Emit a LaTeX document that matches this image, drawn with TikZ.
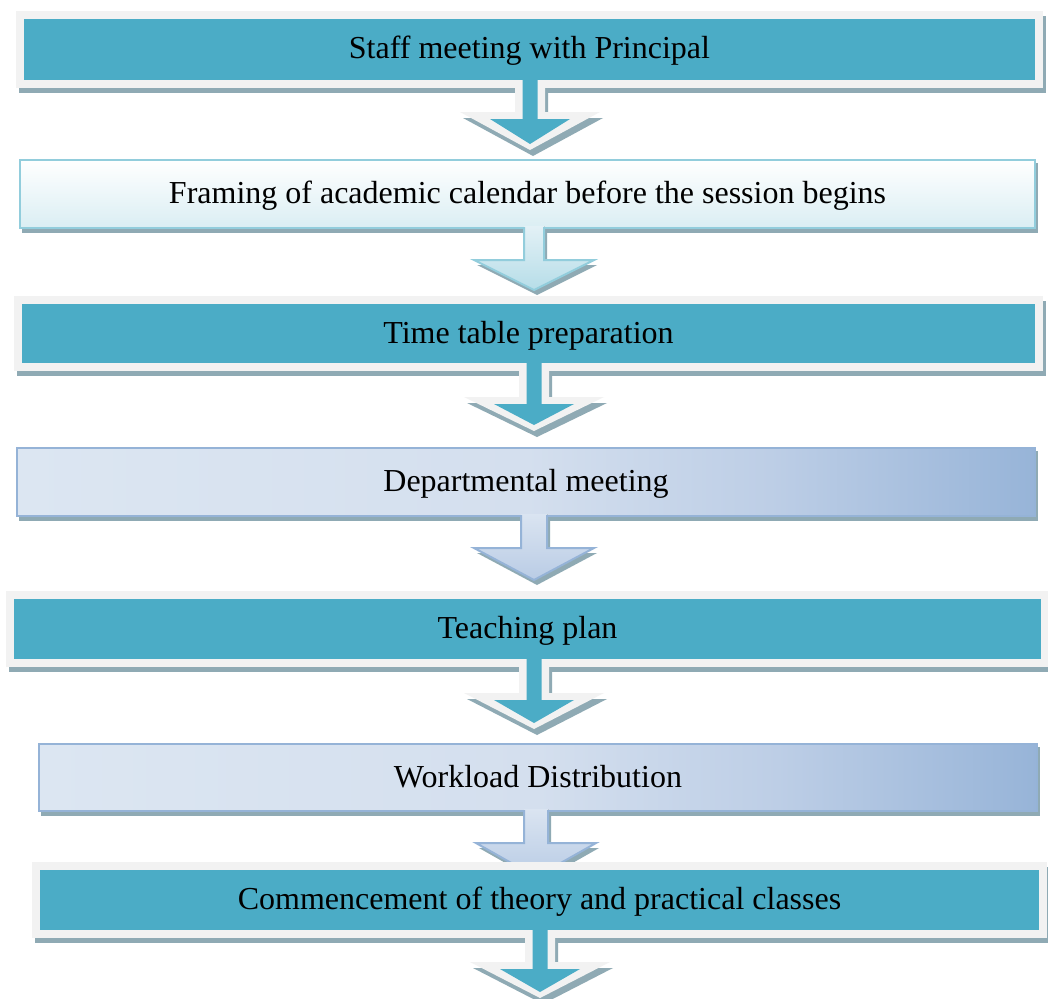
\documentclass[tikz,border=0pt]{standalone}
\usepackage{fontspec}
\setmainfont{Liberation Serif}
\usetikzlibrary{calc}
\definecolor{tealc}{HTML}{4BACC6}
\definecolor{framec}{HTML}{F2F2F2}
\definecolor{shadowc}{HTML}{8FAAB4}
\definecolor{cyanborder}{HTML}{92CDDC}
\definecolor{cyantop}{HTML}{FFFFFF}
\definecolor{cyanbot}{HTML}{DAEEF3}
\definecolor{blueborder}{HTML}{95B3D7}
\definecolor{bluelight}{HTML}{DCE6F2}
\definecolor{bluemid}{HTML}{D4DFEE}
\definecolor{bluemid2}{HTML}{BDCEE6}
\definecolor{bluedark}{HTML}{97B4D8}
\definecolor{arrcyantop}{HTML}{E3F1F6}
\definecolor{arrcyanbot}{HTML}{B6DDE8}
\definecolor{arrbluetop}{HTML}{DAE4F1}
\definecolor{arrbluebot}{HTML}{B9CCE5}

\pgfdeclarehorizontalshading{blueboxshade}{100bp}{color(0bp)=(bluelight); color(25bp)=(bluelight); color(50bp)=(bluemid); color(62bp)=(bluemid2); color(75bp)=(bluedark); color(100bp)=(bluedark)}

\tikzset{
  boxtext/.style={font=\fontsize{32}{38}\selectfont, text height=25pt, text depth=6pt, inner sep=0pt, outer sep=0pt},
  tealbox/.style={boxtext, fill=tealc, draw=none},
  cyanbox/.style={boxtext, top color=cyantop, bottom color=cyanbot, draw=cyanborder, line width=2.5pt},
  bluebox/.style={boxtext, shading=blueboxshade, draw=blueborder, line width=2.5pt},
  shadowfill/.style={fill=shadowc},
}

% teal box: name, outer x1, y1, x2, y2, text
\newcommand\tealstep[6]{%
  \fill[shadowfill] (#2+3,#3+5) rectangle (#4+3,#5+5);
  \fill[framec] (#2,#3) rectangle (#4,#5);
  \node[tealbox, minimum width={#4-#2-16}, minimum height={#5-#3-16}] (#1) at ({(#2+#4)/2},{(#3+#5)/2}) {#6};
}
% light box: style, name, x1, y1, x2, y2 (border mid line), text
\newcommand\lightstep[7]{%
  \fill[shadowfill] (#3+2,#4+3) rectangle (#5+3,#6+5);
  \node[#1, minimum width={#5-#3}, minimum height={#6-#4}] (#2) at ({(#3+#5)/2},{(#4+#6)/2}) {#7};
}
% teal block arrow: cx, ytop, yhead, ytip
\newcommand\blockarrowteal[4]{%
  \fill[shadowfill] (#1-12,#2+8) -- (#1-12,#3+6) -- (#1-67,#3+6) -- (#1+3,#4+6) -- (#1+73,#3+6) -- (#1+18,#3+6) -- (#1+18,#2+8) -- cycle;
  \fill[framec] (#1-15,#2) -- (#1-15,#3) -- (#1-70,#3) -- (#1,#4) -- (#1+70,#3) -- (#1+15,#3) -- (#1+15,#2) -- cycle;
  \fill[tealc] (#1-7.5,#2-1) -- (#1-7.5,#3+7) -- (#1-40,#3+7) -- (#1,#4-6) -- (#1+40,#3+7) -- (#1+7.5,#3+7) -- (#1+7.5,#2-1) -- cycle;
}
% light block arrow: cx, ytop, yhead, ytip, stem half, head half, top colour, bottom colour, border colour
\newcommand\blockarrowlight[9]{%
  \fill[shadowfill] (#1-#5+3,#2+3) -- (#1-#5+3,#3+5) -- (#1-#6+3,#3+5) -- (#1+3,#4+5) -- (#1+#6+3,#3+5) -- (#1+#5+3,#3+5) -- (#1+#5+3,#2+3) -- cycle;
  \fill[top color=#7, bottom color=#8] (#1-#5,#2-2) -- (#1-#5,#3) -- (#1-#6,#3) -- (#1,#4) -- (#1+#6,#3) -- (#1+#5,#3) -- (#1+#5,#2-2) -- cycle;
  \draw[#9, line width=2pt, line join=miter] (#1-#5,#2-1) -- (#1-#5,#3) -- (#1-#6,#3) -- (#1,#4) -- (#1+#6,#3) -- (#1+#5,#3) -- (#1+#5,#2-1);
}

\begin{document}
\begin{tikzpicture}[x=1pt,y=-1pt]
\useasboundingbox (0,0) rectangle (1048,998);
\fill[white] (0,0) rectangle (1048,998);

\tealstep{b1}{16}{11}{1043}{88}{Staff meeting with Principal}
\blockarrowteal{530}{80}{112}{150}

\lightstep{cyanbox}{b2}{20}{160}{1035}{228}{Framing of academic calendar before the session begins}
\blockarrowlight{534}{228}{260}{290}{10}{60}{arrcyantop}{arrcyanbot}{cyanborder}

\tealstep{b3}{14}{296}{1043}{371}{Time table preparation}
\blockarrowteal{534}{363}{397}{431}

\lightstep{bluebox}{b4}{17}{448}{1035}{516}{Departmental meeting}
\blockarrowlight{534}{516}{548}{580}{13}{60}{arrbluetop}{arrbluebot}{blueborder}

\tealstep{b5}{6}{591}{1049}{667}{Teaching plan}
\blockarrowteal{534}{660}{693}{729}

\lightstep{bluebox}{b6}{39}{744}{1037}{811}{Workload Distribution}
\blockarrowlight{536}{811}{843}{877}{12}{60}{arrbluetop}{arrbluebot}{blueborder}

\tealstep{b7}{32}{862}{1047}{938}{Commencement of theory and practical classes}
\blockarrowteal{540}{930}{962}{998}
\end{tikzpicture}
\end{document}
